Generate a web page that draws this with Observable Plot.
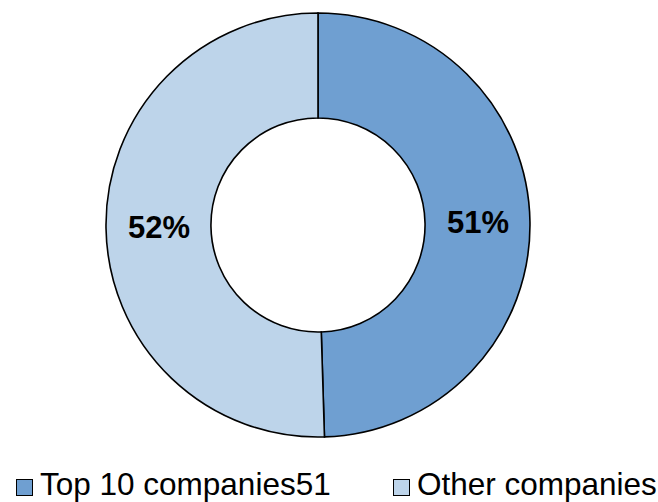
<!DOCTYPE html>
<html>
<head>
<meta charset="utf-8">
<script src="https://cdn.jsdelivr.net/npm/d3@7"></script>
<script src="https://cdn.jsdelivr.net/npm/@observablehq/plot@0.6"></script>
<style>
  html, body { margin: 0; padding: 0; background: #fff; overflow: hidden; }
  #wrap { position: relative; width: 658px; height: 502px; font-family: Arial, "Liberation Sans", sans-serif; }
  #legend { position: absolute; left: 0; top: 466px; width: 658px; height: 36px; font-size: 31.5px; line-height: 36px; color: #000; }
  .item { position: absolute; top: 0; white-space: nowrap; }
  .sw { display: inline-block; width: 15px; height: 15px; border: 1px solid #000; margin-right: 7px; vertical-align: -1px; }
</style>
</head>
<body>
<div id="wrap"></div>
<script>
const categories = ["Top 10 companies", "Other companies"];
const values = [51, 52];
const labels = ["51%", "52%"];
const legendLabels = ["Top 10 companies51", "Other companies"];
const colors = ["#6F9FD1", "#BDD4EA"];

const innerRatio = 0.505;
const data = categories.map((c, i) => ({category: c, value: values[i], label: labels[i], color: colors[i]}));
const arcs = d3.pie().sort(null).value(d => d.value)(data);
const midR = (1 + innerRatio) / 2;
const labelData = arcs.map(a => {
  const m = (a.startAngle + a.endAngle) / 2;
  return {label: a.data.label, x: midR * Math.sin(m), y: midR * Math.cos(m)};
});

const donut = (index, scales, values, dims, context) => {
  const cx = scales.x(0), cy = scales.y(0);
  const R = scales.x(1) - scales.x(0);
  const g = d3.create("svg:g").attr("transform", `translate(${cx},${cy})`);
  const arc = d3.arc().innerRadius(R * innerRatio).outerRadius(R);
  g.selectAll("path").data(arcs).join("path")
    .attr("d", arc)
    .attr("fill", d => d.data.color)
    .attr("stroke", "#000")
    .attr("stroke-width", 1.6);
  return g.node();
};

const chart = Plot.plot({
  width: 658,
  height: 466,
  margin: 0,
  style: {background: "#fff", overflow: "visible"},
  x: {domain: [-1, 1], range: [106, 530], axis: null},
  y: {domain: [-1, 1], range: [437, 13], axis: null},
  marks: [
    donut,
    Plot.text(labelData, {
      x: "x", y: "y", text: "label",
      fontSize: 31, fontWeight: "bold", fill: "#000",
      fontFamily: "Arial, 'Liberation Sans', sans-serif"
    })
  ]
});

const wrap = document.getElementById("wrap");
wrap.appendChild(chart);
const legend = document.createElement("div");
legend.id = "legend";
const lefts = [16, 393];
legendLabels.forEach((t, i) => {
  const it = document.createElement("span");
  it.className = "item";
  it.style.left = lefts[i] + "px";
  const sw = document.createElement("span");
  sw.className = "sw";
  sw.style.background = colors[i];
  it.appendChild(sw);
  it.appendChild(document.createTextNode(t));
  legend.appendChild(it);
});
wrap.appendChild(legend);
</script>
</body>
</html>
